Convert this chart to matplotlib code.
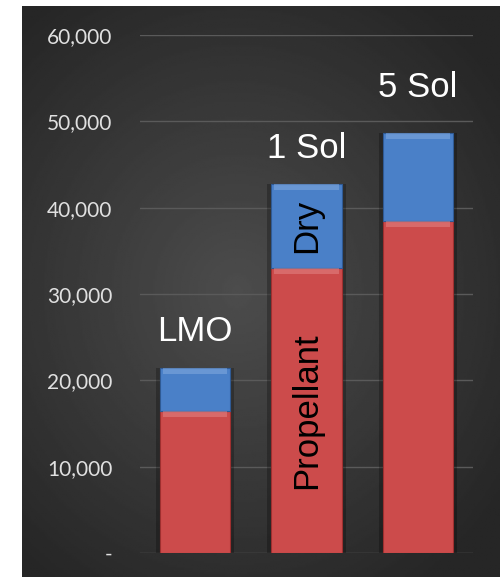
import matplotlib.pyplot as plt
import numpy as np

# values
missions = ["LMO", "1 Sol", "5 Sol"]
propellant = [16450, 33000, 38450]
dry = [4950, 9700, 10200]
ytick_vals = [0, 10000, 20000, 30000, 40000, 50000, 60000]
ytick_labels = ["-", "10,000", "20,000", "30,000", "40,000", "50,000", "60,000"]

red = "#cc4b4b"
blue = "#4a80c8"

fig = plt.figure(figsize=(5.0, 5.77), dpi=100)

# dark panel with a soft radial glow
bg = fig.add_axes([22 / 500, 0, 478 / 500, 1 - 6 / 577])
yy, xx = np.mgrid[0:1:300j, 0:1:300j]
r = np.sqrt((xx - 0.45) ** 2 + ((yy - 0.5) * 1.1) ** 2)
shade = np.clip(0.30 - 0.22 * r, 0.15, 0.30)
bg.imshow(shade, cmap="gray", vmin=0, vmax=1, extent=[0, 1, 0, 1], aspect="auto")
bg.axis("off")

ax = fig.add_axes([140 / 500, 1 - 553 / 577, 333 / 500, 518 / 577])
ax.patch.set_alpha(0)

x = np.arange(len(missions))
w = 0.63
totals = [p + d for p, d in zip(propellant, dry)]

# drop shadow behind each bar
ax.bar(x, totals, w + 0.07, color="black", alpha=0.25, zorder=2)
ax.bar(x, propellant, w, color=red, edgecolor="#9e2f2f", linewidth=0.8, zorder=3)
ax.bar(x, dry, w, bottom=propellant, color=blue, edgecolor="#2f5a94", linewidth=0.8, zorder=3)
# bevel highlights on top of each segment
ax.bar(x, [700] * 3, w * 0.92, bottom=[p - 700 for p in propellant], color="#e89090", alpha=0.45, zorder=4)
ax.bar(x, [700] * 3, w * 0.92, bottom=[t - 700 for t in totals], color="#8fb4e4", alpha=0.45, zorder=4)

label_gap = [2300, 2200, 3400]
for i, name in enumerate(missions):
    ax.text(x[i], totals[i] + label_gap[i], name, ha="center", va="bottom",
            color="white", fontsize=25, family="Liberation Sans", zorder=5)

ax.text(x[1], propellant[1] / 2, "Propellant", rotation=90, ha="center", va="center",
        color="black", fontsize=25, family="Liberation Sans", zorder=5)
ax.text(x[1], propellant[1] + dry[1] / 2, "Dry", rotation=90, ha="center", va="center",
        color="black", fontsize=25, family="Liberation Sans", zorder=5)

ax.set_xlim(-0.493, 2.493)
ax.set_ylim(0, 60000)
ax.set_yticks(ytick_vals)
ax.set_yticklabels(ytick_labels, color="#e0e0e0", fontsize=15, family="Lato")
ax.set_xticks([])
ax.tick_params(axis="y", length=0, pad=20)
ax.grid(axis="y", color="#5a5a5a", linewidth=1)
ax.set_axisbelow(True)
for s in ax.spines.values():
    s.set_visible(False)

fig.savefig("out.png", dpi=100, facecolor="white")
